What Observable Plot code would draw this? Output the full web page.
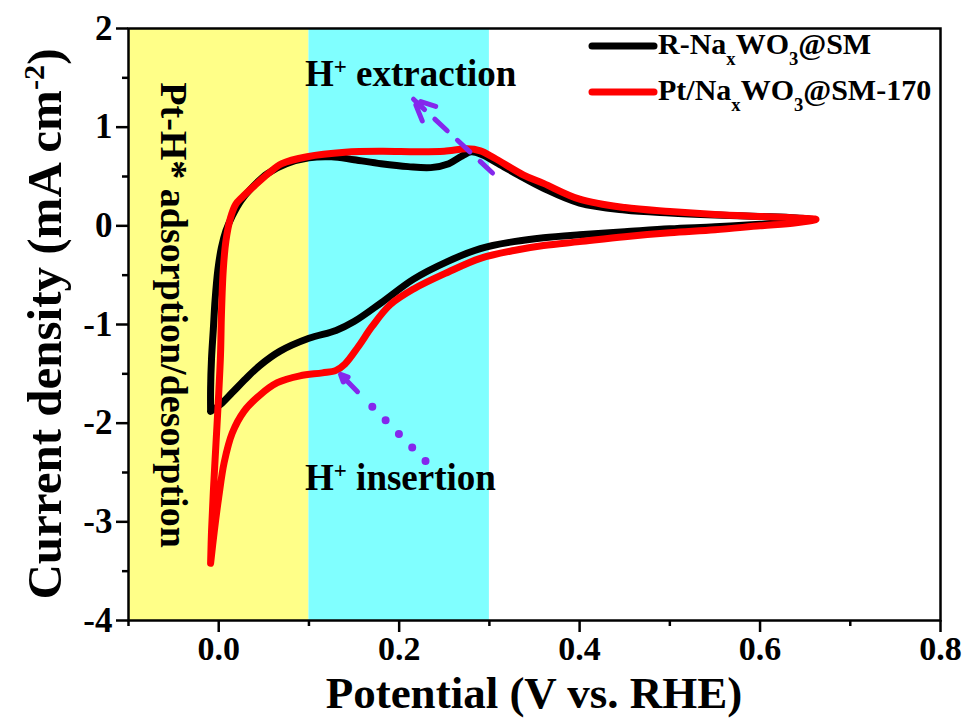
<!DOCTYPE html>
<html><head><meta charset="utf-8">
<script src="https://cdn.jsdelivr.net/npm/d3@7"></script>
<script src="https://cdn.jsdelivr.net/npm/@observablehq/plot@0.6"></script>
<style>body{margin:0;background:#fff} #chart svg{display:block}</style>
</head><body><div id="chart"></div>
<script>
// ---------- data ----------
const blackPotential = [-0.009,-0.009,-0.008,-0.006,-0.004,-0.001,0.003,0.008,0.015,0.025,0.035,0.054,0.075,0.10,0.125,0.15,0.18,0.21,0.235,0.255,0.27,0.28,0.292,0.31,0.333,0.36,0.40,0.45,0.50,0.55,0.60,0.64,0.656,
  0.64,0.60,0.55,0.50,0.45,0.40,0.36,0.327,0.29,0.254,0.216,0.18,0.15,0.13,0.10,0.068,0.045,0.03,0.015,0.002,-0.009];
const blackCurrent = [-1.88,-1.65,-1.35,-1.05,-0.75,-0.45,-0.22,-0.05,0.10,0.26,0.37,0.53,0.63,0.69,0.70,0.67,0.63,0.60,0.59,0.63,0.71,0.75,0.72,0.63,0.51,0.38,0.23,0.16,0.13,0.11,0.095,0.08,0.065,
  0.04,0.015,-0.01,-0.03,-0.06,-0.09,-0.12,-0.16,-0.23,-0.36,-0.54,-0.78,-0.97,-1.06,-1.14,-1.27,-1.42,-1.55,-1.69,-1.81,-1.88];
const redPotential = [-0.009,-0.008,-0.006,-0.003,0.000,0.002,0.003,0.005,0.008,0.013,0.019,0.026,0.04,0.055,0.07,0.098,0.14,0.18,0.22,0.25,0.275,0.29,0.305,0.338,0.36,0.40,0.45,0.50,0.55,0.60,0.64,0.662,
  0.64,0.60,0.55,0.50,0.45,0.40,0.36,0.327,0.29,0.254,0.216,0.19,0.17,0.155,0.14,0.13,0.115,0.09,0.065,0.045,0.028,0.015,0.006,0.000,-0.005,-0.009];
const redCurrent = [-3.42,-3.1,-2.7,-2.2,-1.7,-1.3,-0.9,-0.45,-0.15,0.08,0.22,0.29,0.41,0.53,0.63,0.70,0.745,0.755,0.75,0.755,0.78,0.76,0.69,0.515,0.43,0.27,0.185,0.145,0.115,0.095,0.08,0.065,
  0.03,0.0,-0.04,-0.07,-0.11,-0.16,-0.20,-0.25,-0.33,-0.47,-0.64,-0.80,-1.02,-1.22,-1.40,-1.465,-1.49,-1.52,-1.59,-1.72,-1.88,-2.1,-2.4,-2.75,-3.1,-3.42];

const xTicks = [0, 0.2, 0.4, 0.6, 0.8];
const xTickLabels = ["0.0", "0.2", "0.4", "0.6", "0.8"];
const xMinorTicks = [-0.1, 0.1, 0.3, 0.5, 0.7];
const yTicks = [-4, -3, -2, -1, 0, 1, 2];
const yTickLabels = ["-4", "-3", "-2", "-1", "0", "1", "2"];
const yMinorTicks = [-3.5, -2.5, -1.5, -0.5, 0.5, 1.5];

const bandStart = [-0.1, 0.1];
const bandEnd = [0.1, 0.3];
const bandColors = ["#FFFF88", "#80FFFF"];

// annotation arrows: [x1, y1, x2, y2]
const extractionArrow = [0.3035, 0.535, 0.2159, 1.283];
const insertionArrow = [0.2292, -2.384, 0.135, -1.505];

const xTitle = "Potential (V vs. RHE)";
const yTitle = [["Current density (mA cm", 0], ["-2", 1], [")", 0]];
const bandText = "Pt-H* adsorption/desorption";
const extractionText = [["H", 0], ["+", 1], [" extraction", 0]];
const insertionText = [["H", 0], ["+", 1], [" insertion", 0]];
const legendLabels = [
  [["R-Na", 0], ["x", -1], ["WO", 0], ["3", -1], ["@SM", 0]],
  [["Pt/Na", 0], ["x", -1], ["WO", 0], ["3", -1], ["@SM-170", 0]]
];
const legendColors = ["#000000", "#FF0000"];

// ---------- tables ----------
const black = blackPotential.map((v, i) => ({v, j: blackCurrent[i]}));
const red = redPotential.map((v, i) => ({v, j: redCurrent[i]}));
const bands = bandStart.map((s, i) => ({s, e: bandEnd[i], c: bandColors[i]}));
const purple = "#8428EC";
const lerp = (d, t) => [d[0] + (d[2] - d[0]) * t, d[1] + (d[3] - d[1]) * t];

const plot = Plot.plot({
  width: 968, height: 722,
  marginLeft: 128, marginRight: 28, marginTop: 28, marginBottom: 102,
  x: {domain: [-0.1, 0.8], label: null},
  y: {domain: [-4, 2], label: null},
  style: {fontFamily: "'Liberation Serif', 'Times New Roman', serif", fontWeight: "bold", background: "#fff", color: "#000"},
  marks: [
    Plot.rect([bands[0]], {x1: "s", x2: "e", y1: () => -4, y2: () => 2, fill: bandColors[0]}),
    Plot.rect([bands[1]], {x1: "s", x2: "e", y1: () => -4, y2: () => 2, fill: bandColors[1]}),
    Plot.line(black, {x: "v", y: "j", stroke: "#000", strokeWidth: 7, curve: "catmull-rom", strokeLinecap: "round", strokeLinejoin: "round"}),
    Plot.line(red, {x: "v", y: "j", stroke: "#FF0000", strokeWidth: 7, curve: "catmull-rom", strokeLinecap: "round", strokeLinejoin: "round"}),
    Plot.arrow([extractionArrow], {x1: d => d[0], y1: d => d[1], x2: d => d[2], y2: d => d[3], stroke: purple, strokeWidth: 5, strokeDasharray: "17 14", headLength: 7, headAngle: 50, strokeLinecap: "round"}),
    Plot.link([insertionArrow], {x1: d => d[0], y1: d => d[1], x2: d => lerp(d, 0.72)[0], y2: d => lerp(d, 0.72)[1], stroke: purple, strokeWidth: 8, strokeDasharray: "0 19", strokeLinecap: "round"}),
    Plot.arrow([insertionArrow], {x1: d => lerp(d, 0.8)[0], y1: d => lerp(d, 0.8)[1], x2: d => d[2], y2: d => d[3], stroke: purple, strokeWidth: 5, headLength: 7, headAngle: 50, strokeLinecap: "round"}),
    Plot.frame({stroke: "#000", strokeWidth: 2.5}),
    Plot.axisX(xTicks, {tickSize: 12, tickPadding: 3, fontSize: 34, strokeWidth: 2.5, label: null, tickFormat: d => xTickLabels[xTicks.indexOf(d)]}),
    Plot.axisX(xMinorTicks, {tickSize: 6, strokeWidth: 2.5, label: null, tickFormat: () => ""}),
    Plot.axisY(yTicks, {tickSize: 12, tickPadding: 4, fontSize: 35, strokeWidth: 2.5, label: null, tickFormat: d => yTickLabels[yTicks.indexOf(d)]}),
    Plot.axisY(yMinorTicks, {tickSize: 6, strokeWidth: 2.5, label: null, tickFormat: () => ""})
  ]
});
document.getElementById("chart").append(plot);

const svg = d3.select(plot);
const sx = plot.scale("x"), sy = plot.scale("y");

function richText(sel, parts) {
  for (const [t, sh] of parts) {
    const ts = sel.append("tspan").text(t);
    if (sh === 1) ts.attr("baseline-shift", "super").style("font-size", "62%");
    else if (sh === -1) ts.attr("baseline-shift", "sub").style("font-size", "62%");
  }
  return sel;
}

// axis titles
svg.append("text").attr("x", (128 + 940) / 2).attr("y", 708).attr("text-anchor", "middle")
  .style("font-size", "45px").style("font-weight", "bold").text(xTitle);
richText(svg.append("text").attr("transform", `translate(61, ${(28 + 620) / 2}) rotate(-90)`)
  .attr("text-anchor", "middle").style("font-size", "49px").style("font-weight", "bold"), yTitle);

// vertical band text
svg.append("text").attr("transform", `translate(161, ${sy.apply(1.45)}) rotate(90)`)
  .attr("text-anchor", "start").style("font-size", "38px").style("font-weight", "bold").text(bandText);

// annotation labels
richText(svg.append("text").attr("x", 305).attr("y", sy.apply(1.41)).attr("text-anchor", "start")
  .style("font-size", "37px").style("font-weight", "bold"), extractionText);
richText(svg.append("text").attr("x", 305).attr("y", sy.apply(-2.68)).attr("text-anchor", "start")
  .style("font-size", "37px").style("font-weight", "bold"), insertionText);

// legend
legendLabels.forEach((parts, i) => {
  const y = 46 + i * 46;
  svg.append("line").attr("x1", 592).attr("x2", 654).attr("y1", y).attr("y2", y)
    .attr("stroke", legendColors[i]).attr("stroke-width", 7).attr("stroke-linecap", "round");
  richText(svg.append("text").attr("x", 658).attr("y", y + 8).attr("text-anchor", "start")
    .style("font-size", "30px").style("font-weight", "bold"), parts);
});
</script>
</body></html>
